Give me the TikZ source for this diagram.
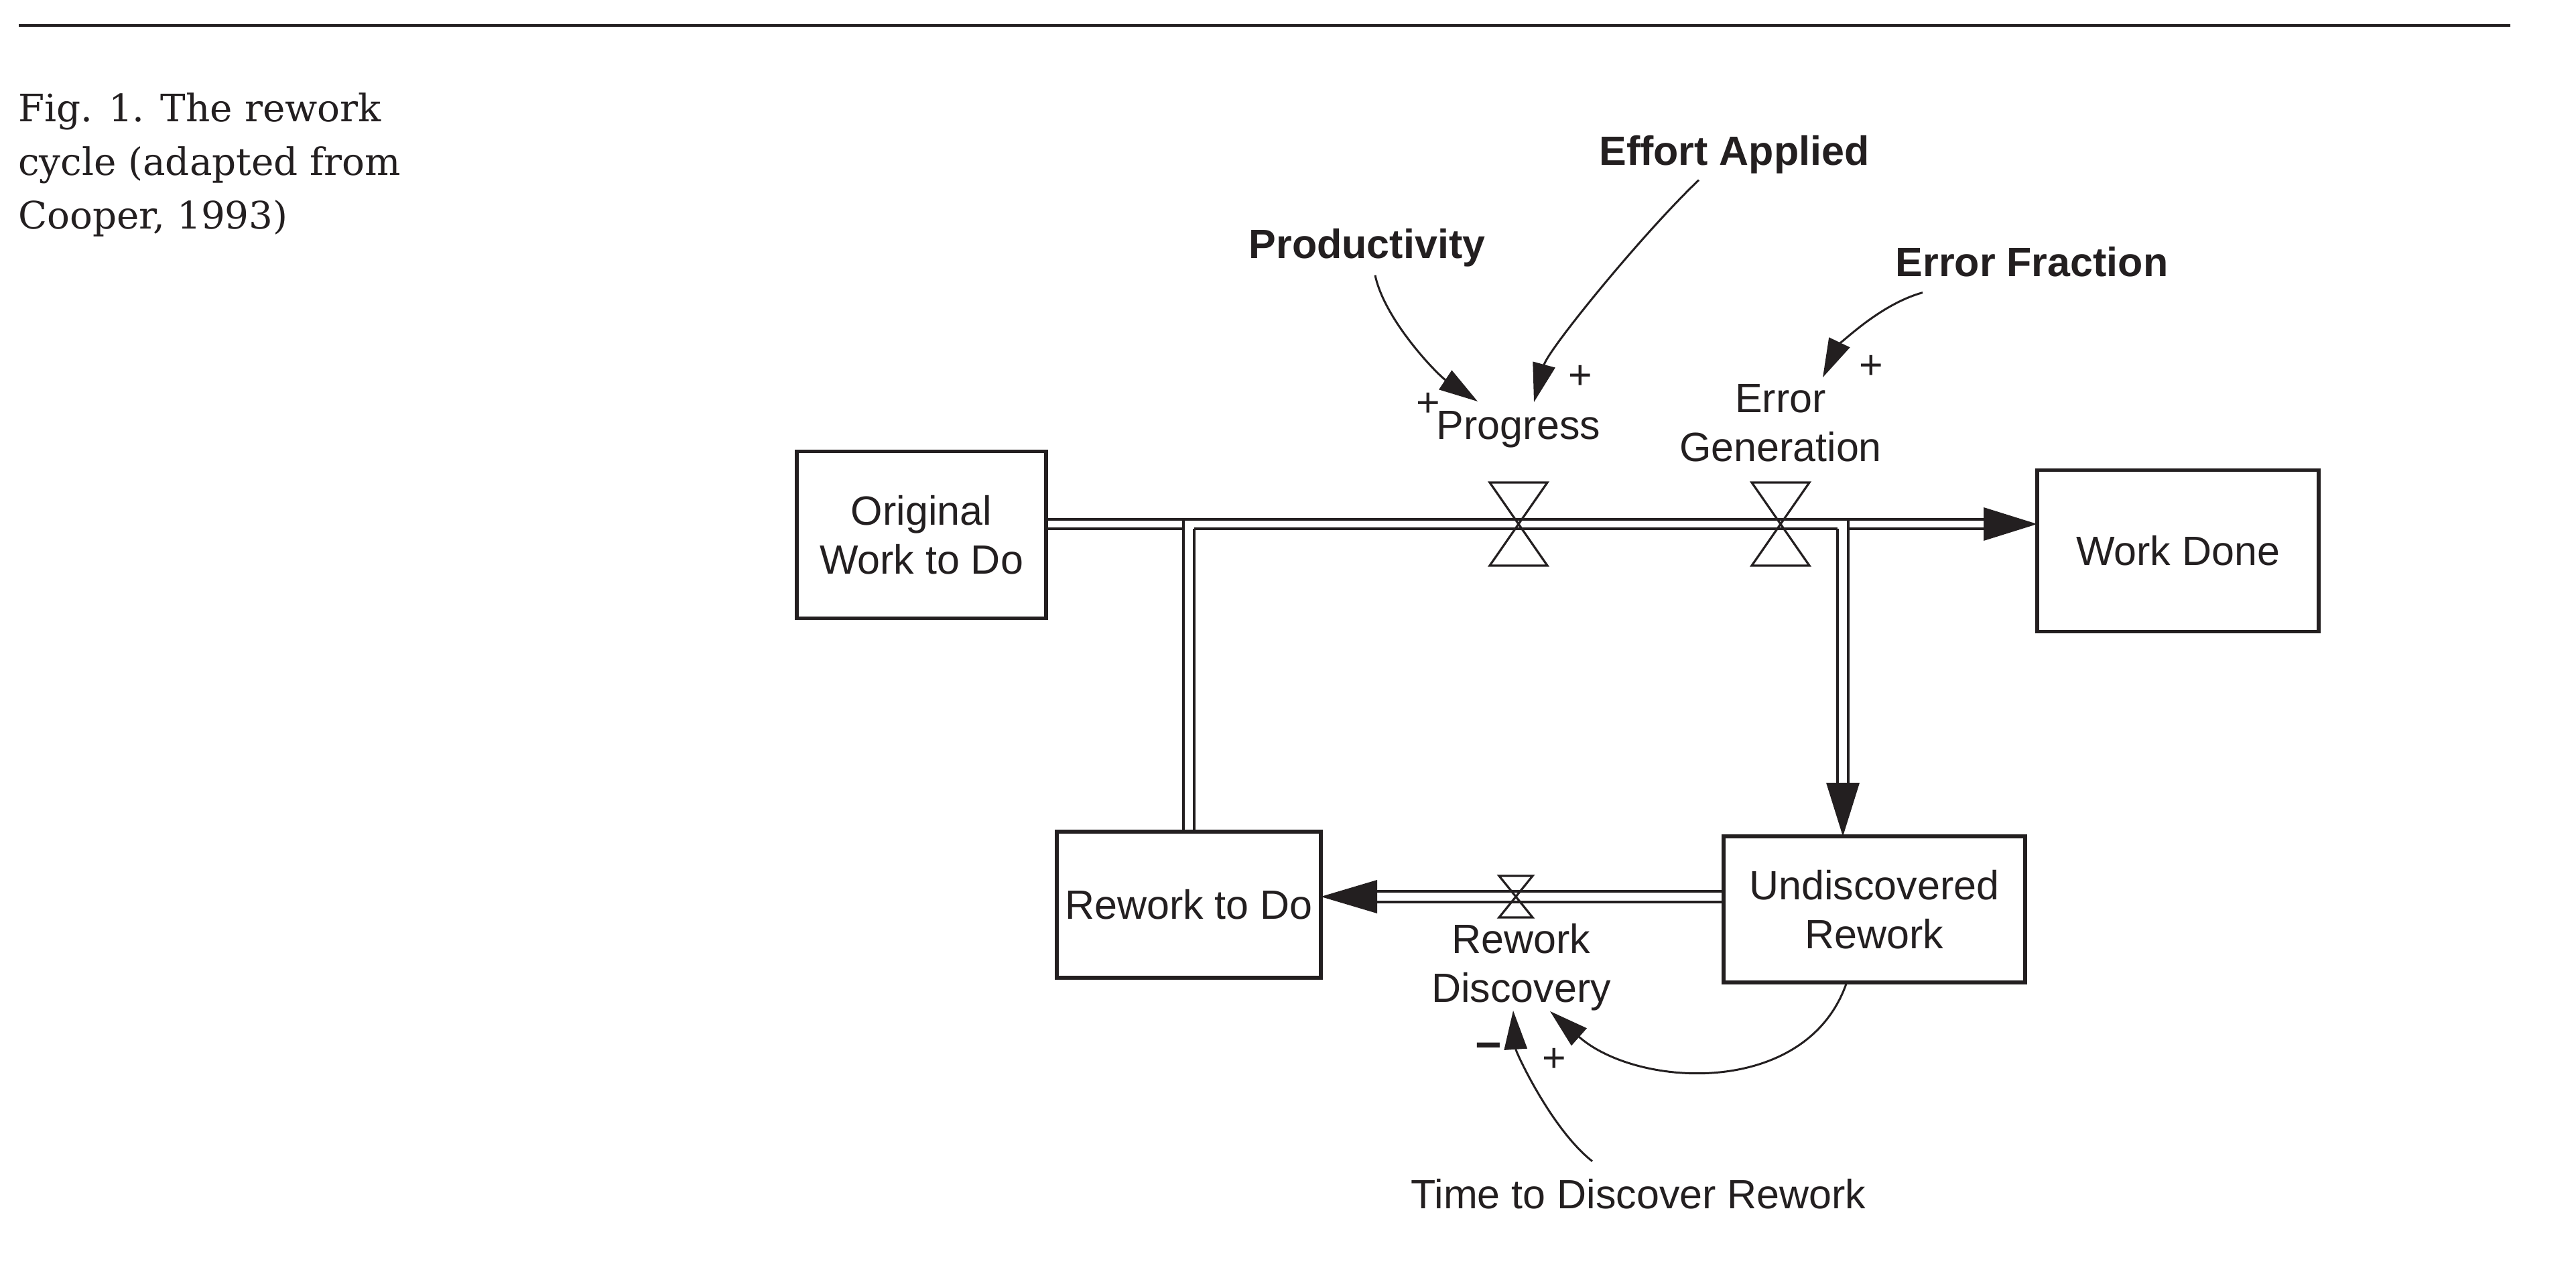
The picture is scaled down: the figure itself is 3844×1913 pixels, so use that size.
\documentclass[tikz,border=0pt]{standalone}
\usepackage{fontspec}
\setsansfont{Liberation Sans}
\newfontfamily\capserif{DejaVu Serif}
\usetikzlibrary{arrows.meta}
\definecolor{ink}{HTML}{231F20}
\newcommand\diagfont{\fontsize{15.25pt}{18.25pt}\selectfont\sffamily}
\newcommand\signfont{\fontsize{15.25pt}{18.25pt}\selectfont\sffamily}
\newcommand\minusfont{\fontsize{17pt}{18pt}\selectfont\sffamily\bfseries}
\newcommand\captfont{\fontsize{14.1pt}{20pt}\selectfont\capserif}
\tikzset{
  box/.style={draw=ink, line width=1.3pt, inner sep=0pt, outer sep=0pt, font=\diagfont, align=center, text=ink},
  lbl/.style={inner sep=0pt, outer sep=0pt, font=\diagfont, text=ink},
  blbl/.style={inner sep=0pt, outer sep=0pt, font=\diagfont\bfseries, text=ink},
  sgn/.style={inner sep=0pt, outer sep=0pt, font=\signfont, text=ink},
  mns/.style={inner sep=0pt, outer sep=0pt, font=\minusfont, text=ink},
  captxt/.style={inner sep=0pt, outer sep=0pt, font=\captfont, text=ink},
  info/.style={draw=ink, line width=0.75pt, -{Triangle[length=14.5pt,width=8.5pt]}},
  pthin/.style={draw=ink, line width=0.85pt},
  pbold/.style={draw=ink, line width=1.0pt},
  valveline/.style={draw=ink, line width=0.8pt, line join=miter},
  bigvalve/.pic={\draw[valveline] (-43,-62) -- (43,-62) -- (-43,62) -- (43,62) -- cycle;},
  smallvalve/.pic={\draw[valveline] (-25,-31) -- (25,-31) -- (-25,31) -- (25,31) -- cycle;}
}
\begin{document}
\begin{tikzpicture}[x=0.25pt, y=-0.25pt]
\useasboundingbox (0,0) rectangle (3844,1913);

% top rule
\draw[ink, line width=0.8pt] (28,38) -- (3746,38);

% caption
\node[captxt, anchor=base west] (c1) at (27,182) {Fig. 1. The rework};
\node[captxt, anchor=base west] (c2) at (27,262) {cycle (adapted from};
\node[captxt, anchor=base west] (c3) at (27,342) {Cooper, 1993)};

% stocks
\node[box, minimum width=93pt, minimum height=62.25pt] (owd) at (1375,798) {Original\\Work to Do};
\node[box, minimum width=105pt, minimum height=60.25pt] (wd) at (3250,822) {Work Done};
\node[box, minimum width=98.5pt, minimum height=54.5pt] (rtd) at (1774,1350) {Rework to Do};
\node[box, minimum width=112.5pt, minimum height=54.5pt] (ur) at (2797,1357) {Undiscovered\\Rework};

% valve and junction coordinates
\coordinate (vprog) at (2266,782);
\coordinate (verr) at (2657,782);
\coordinate (vdisc) at (2262,1338);
\coordinate (jR) at (2750,782);
\coordinate (jL) at (rtd.north |- vprog);
\coordinate (pL) at (owd.east |- vprog);
\coordinate (pR) at (wd.west |- vprog);
\coordinate (dTip) at (jR |- ur.north);
\coordinate (lR) at (ur.west |- vdisc);
\coordinate (lTip) at (rtd.east |- vdisc);

% main pipe, upstream of Progress
\draw[pthin] ([shift={(0,-7)}]pL) -- ([shift={(0,-7)}]vprog);
\draw[pthin] ([shift={(0,7)}]pL) -- ([shift={(-8,7)}]jL);
\draw[pthin] ([shift={(8,7)}]jL) -- ([shift={(0,7)}]vprog);
\draw[pthin] ([shift={(-8,-7)}]jL) -- ([shift={(-8,0)}]rtd.north);
\draw[pthin] ([shift={(8,7)}]jL) -- ([shift={(8,0)}]rtd.north);

% main pipe, downstream of Progress
\draw[pbold] ([shift={(0,-7)}]vprog) -- ([shift={(-80,-7)}]pR);
\draw[pbold] ([shift={(0,7)}]vprog) -- ([shift={(-8,7)}]jR);
\draw[pbold] ([shift={(8,7)}]jR) -- ([shift={(-80,7)}]pR);
\fill[ink] (pR) -- ++(-80,-25) -- ++(0,50) -- cycle;

% pipe down to Undiscovered Rework
\draw[pbold] ([shift={(-8,7)}]jR) -- ([shift={(-8,-80)}]dTip);
\draw[pbold] ([shift={(8,-7)}]jR) -- ([shift={(8,-80)}]dTip);
\fill[ink] (dTip) -- ++(-25,-80) -- ++(50,0) -- cycle;

% rework discovery pipe
\draw[pthin] ([shift={(0,-8)}]lR) -- ([shift={(0,-8)}]vdisc);
\draw[pthin] ([shift={(0,8)}]lR) -- ([shift={(0,8)}]vdisc);
\draw[pbold] ([shift={(0,-8)}]vdisc) -- ([shift={(84,-8)}]lTip);
\draw[pbold] ([shift={(0,8)}]vdisc) -- ([shift={(84,8)}]lTip);
\fill[ink] (lTip) -- ++(84,-25) -- ++(0,50) -- cycle;

% valves
\pic at (vprog) {bigvalve};
\pic at (verr) {bigvalve};
\pic at (vdisc) {smallvalve};

% labels
\node[lbl, anchor=base] (progress) at (2266,656) {Progress};
\node[lbl, align=center] (errgen) at (2657,631) {Error\\Generation};
\node[lbl, align=center] (rdisc) at (2270,1443) {Rework\\Discovery};
\node[blbl, anchor=base] (prod) at (2040,386) {Productivity};
\node[blbl, anchor=base] (effort) at (2588,247) {Effort Applied};
\node[blbl, anchor=base] (errfrac) at (3032,413) {Error Fraction};
\node[lbl, anchor=base] (tdr) at (2445,1803) {Time to Discover Rework};

% polarity signs
\node[sgn] (s1) at (2131,604) {+};
\node[sgn] (s2) at (2358,563) {+};
\node[sgn] (s3) at (2792,548) {+};
\node[sgn] (s4) at (2319,1582) {+};
\node[mns] (s5) at (2221,1569) {−};

% information links
\draw[info] ([shift={(12,12)}]prod.south) .. controls +(14,67) and +(-60,-40) .. ([shift={(-61,-15)}]progress.north);
\draw[info] ([shift={(-53,9)}]effort.south) .. controls +(-85,81) and +(21,-78) .. ([shift={(23,-14)}]progress.north);
\draw[info] ([shift={(-163,23)}]errfrac.south) .. controls +(-69,19) and +(20,-42) .. ([shift={(63,-10)}]errgen.north);
\draw[info] ([shift={(-42,2)}]ur.south) .. controls +(-60,170) and +(130,115) .. ([shift={(43,1)}]rdisc.south);
\draw[info] ([shift={(-69,-26)}]tdr.north) .. controls +(-61,-48) and +(4,62) .. ([shift={(-12,0)}]rdisc.south);
\end{tikzpicture}
\end{document}
